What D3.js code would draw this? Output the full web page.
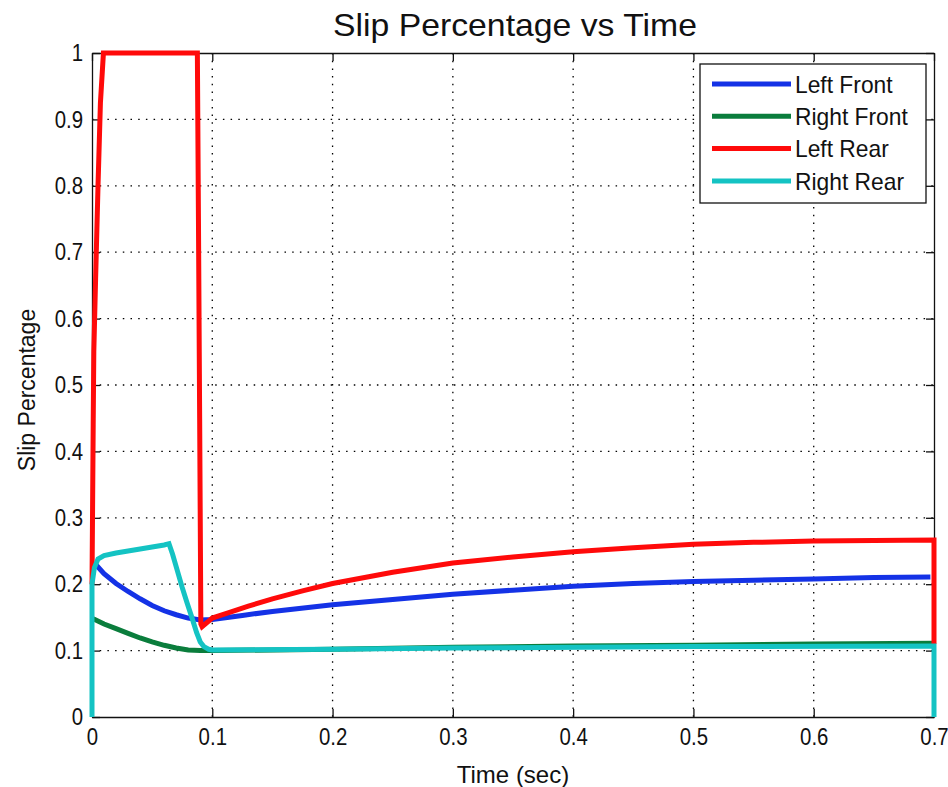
<!DOCTYPE html>
<html>
<head>
<meta charset="utf-8">
<script src="https://cdn.jsdelivr.net/npm/d3@7"></script>
<style>
  body { margin: 0; background: #fff; }
  text { font-family: "Liberation Sans", Arial, sans-serif; fill: #111; }
</style>
</head>
<body>
<div id="chart"></div>
<script>
// values, [time, slip]
var leftFront = [[0.002,0.232],[0.01,0.216],[0.02,0.201],[0.03,0.189],[0.04,0.178],[0.05,0.168],[0.06,0.16],[0.07,0.154],[0.08,0.149],[0.09,0.146],[0.1,0.147],[0.125,0.153],[0.15,0.159],[0.2,0.169],[0.25,0.177],[0.3,0.185],[0.35,0.191],[0.4,0.197],[0.45,0.201],[0.5,0.204],[0.55,0.206],[0.6,0.208],[0.65,0.21],[0.697,0.211]];
var rightFront = [[0.001,0.148],[0.01,0.14],[0.02,0.133],[0.03,0.126],[0.04,0.119],[0.05,0.113],[0.06,0.108],[0.07,0.104],[0.08,0.101],[0.09,0.1],[0.1,0.1],[0.2,0.102],[0.3,0.105],[0.4,0.107],[0.5,0.108],[0.6,0.11],[0.7,0.111]];
var leftRear = [[0,0.2],[0.001,0.44],[0.0015,0.55],[0.003,0.66],[0.005,0.8],[0.007,0.925],[0.0095,1.0],[0.0876,1.0],[0.0885,0.75],[0.0895,0.45],[0.0905,0.14],[0.0915,0.136],[0.1,0.149],[0.115,0.158],[0.13,0.167],[0.15,0.178],[0.175,0.19],[0.2,0.201],[0.25,0.218],[0.3,0.232],[0.35,0.241],[0.4,0.249],[0.45,0.255],[0.5,0.26],[0.55,0.263],[0.6,0.265],[0.65,0.266],[0.7,0.2665],[0.7,0.11]];
var rightRear = [[0,0],[0,0.2],[0.002,0.225],[0.005,0.238],[0.01,0.243],[0.02,0.247],[0.03,0.25],[0.04,0.253],[0.05,0.256],[0.06,0.259],[0.064,0.261],[0.067,0.245],[0.071,0.22],[0.075,0.195],[0.079,0.172],[0.083,0.15],[0.087,0.127],[0.09,0.113],[0.093,0.106],[0.097,0.102],[0.1,0.101],[0.2,0.102],[0.3,0.104],[0.5,0.106],[0.7,0.107],[0.7,0]];

var seriesNames = ["Left Front", "Right Front", "Left Rear", "Right Rear"];
var seriesColors = ["#1432e6", "#0a7d3c", "#ff0a0a", "#14c3c3"];
var xTicks = [0, 0.1, 0.2, 0.3, 0.4, 0.5, 0.6, 0.7];
var yTicks = [0, 0.1, 0.2, 0.3, 0.4, 0.5, 0.6, 0.7, 0.8, 0.9, 1];

var width = 948, height = 787;
var margin = {top: 53, right: 14, bottom: 70, left: 92};
var w = width - margin.left - margin.right,
    h = height - margin.top - margin.bottom;

var svg = d3.select("#chart").append("svg")
    .attr("width", width)
    .attr("height", height);

var g = svg.append("g").attr("transform", "translate(" + margin.left + "," + margin.top + ")");

var x = d3.scaleLinear().domain([0, 0.7]).range([0, w]);
var y = d3.scaleLinear().domain([0, 1]).range([h, 0]);

// squeeze text a bit, the original font is narrow
function narrow(sel, k) {
  sel.each(function() {
    var len = this.getComputedTextLength();
    d3.select(this).attr("textLength", len * k).attr("lengthAdjust", "spacingAndGlyphs");
  });
}

// dotted grid
g.selectAll(".vgrid").data(xTicks.slice(1, -1)).enter().append("line")
    .attr("x1", function(d) { return x(d); }).attr("x2", function(d) { return x(d); })
    .attr("y1", 0).attr("y2", h)
    .style("stroke", "#000").style("stroke-width", 1.3).style("stroke-dasharray", "1.5,6.2");
g.selectAll(".hgrid").data(yTicks.slice(1, -1)).enter().append("line")
    .attr("y1", function(d) { return y(d); }).attr("y2", function(d) { return y(d); })
    .attr("x1", 0).attr("x2", w)
    .style("stroke", "#000").style("stroke-width", 1.3).style("stroke-dasharray", "1.5,6.2");

// axes with inward ticks, MATLAB box style
var fmt = function(d) { return d === 0 || d === 1 ? String(d) : d3.format(".1f")(d); };
var xAxis = g.append("g").attr("transform", "translate(0," + h + ")")
    .call(d3.axisBottom(x).tickValues(xTicks).tickFormat(fmt).tickSizeInner(-8).tickSizeOuter(0).tickPadding(11));
var yAxis = g.append("g")
    .call(d3.axisLeft(y).tickValues(yTicks).tickFormat(fmt).tickSizeInner(-8).tickSizeOuter(0).tickPadding(9));
g.append("g")
    .call(d3.axisTop(x).tickValues(xTicks).tickFormat("").tickSizeInner(-8).tickSizeOuter(0));
g.append("g").attr("transform", "translate(" + w + ",0)")
    .call(d3.axisRight(y).tickValues(yTicks).tickFormat("").tickSizeInner(-8).tickSizeOuter(0));

g.selectAll(".domain").style("stroke", "#111").style("stroke-width", 1.3);
g.selectAll(".tick line").style("stroke", "#111").style("stroke-width", 1.3);
g.selectAll(".tick text").style("font-size", "24px").style("font-family", "Liberation Sans, Arial, sans-serif").style("fill", "#111");
narrow(g.selectAll(".tick text"), 0.85);

// lines
var line = d3.line().x(function(d) { return x(d[0]); }).y(function(d) { return y(d[1]); });
var allSeries = [leftFront, rightFront, leftRear, rightRear];
g.selectAll(".series").data(allSeries).enter().append("path")
    .attr("d", line)
    .style("fill", "none")
    .style("stroke", function(d, i) { return seriesColors[i]; })
    .style("stroke-width", 5)
    .style("stroke-linejoin", "miter");

// legend
var lg = g.append("g").attr("transform", "translate(" + (700 - margin.left) + "," + (64 - margin.top) + ")");
lg.append("rect").attr("width", 226).attr("height", 139)
    .style("fill", "#fff").style("stroke", "#111").style("stroke-width", 1.3);
var rows = lg.selectAll(".row").data(seriesNames).enter().append("g")
    .attr("transform", function(d, i) { return "translate(0," + (20 + i * 32.3) + ")"; });
rows.append("line").attr("x1", 12).attr("x2", 91)
    .style("stroke", function(d, i) { return seriesColors[i]; }).style("stroke-width", 5);
var legText = rows.append("text").attr("x", 95).attr("dy", "0.36em")
    .style("font-size", "24px").text(function(d) { return d; });
narrow(legText, 0.95);

// titles
svg.append("text").attr("x", margin.left + w / 2 + 2).attr("y", 36)
    .attr("text-anchor", "middle").style("font-size", "32px")
    .attr("textLength", 364).attr("lengthAdjust", "spacingAndGlyphs")
    .text("Slip Percentage vs Time");
svg.append("text").attr("x", margin.left + w / 2).attr("y", 783)
    .attr("text-anchor", "middle").style("font-size", "24px").text("Time (sec)");
svg.append("text").attr("transform", "translate(35," + (margin.top + h / 2 + 5) + ") rotate(-90)")
    .attr("text-anchor", "middle").style("font-size", "23px").text("Slip Percentage");
</script>
</body>
</html>
